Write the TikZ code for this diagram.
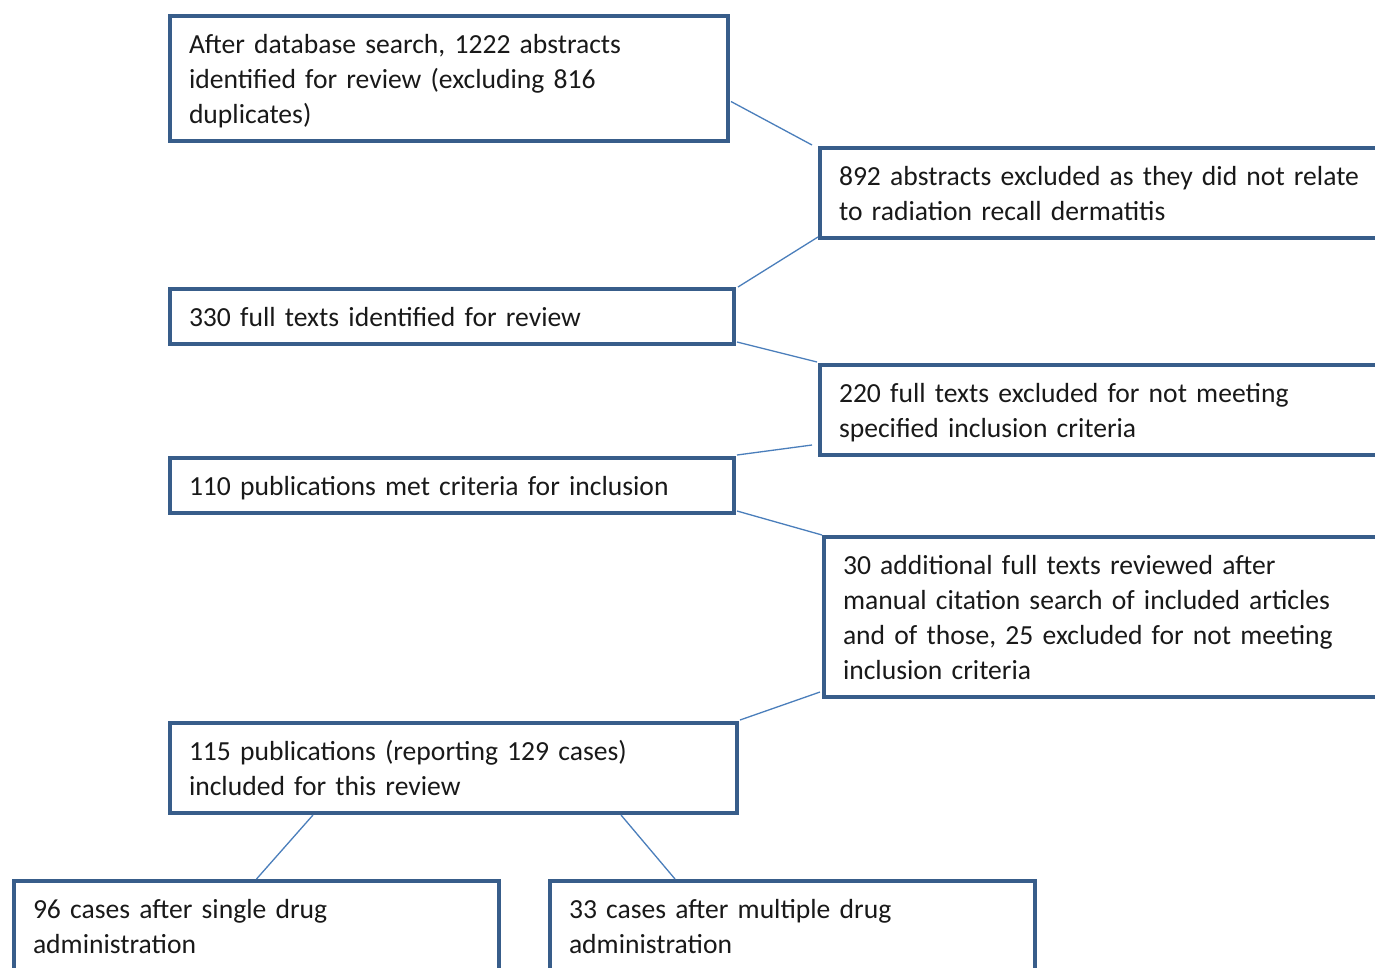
\documentclass[tikz,border=0pt]{standalone}
\usepackage{fontspec}
\setmainfont{Carlito}
\usepackage{tikz}

\definecolor{boxblue}{HTML}{385D8A}
\definecolor{linkblue}{HTML}{4A7EBB}

\begin{document}
\begin{tikzpicture}[
    x=1pt, y=-1pt,
    stage/.style={rectangle, draw=boxblue, line width=4pt, fill=white, anchor=north west,
        align=left, inner xsep=19pt, inner ysep=10pt, text=black!90,
        font=\fontsize{27.6}{35}\selectfont,
        execute at begin node=\rule{0pt}{27.5pt},
        execute at end node=\rule[-7.5pt]{0pt}{7.5pt}},
    link/.style={draw=linkblue, line width=1.3pt}
]

% --- Page frame (boxes on the right and at the bottom run off it) ---
\useasboundingbox (0,0) rectangle (1375,967);
\clip (0,0) rectangle (1375,967);
\fill[white] (0,0) rectangle (1375,967);

% --- Main column ---
\node[stage, text width=520pt] (search) at (168,14)
    {After database search, 1222 abstracts\\identified for review (excluding 816\\duplicates)};
\node[stage, text width=526pt] (full) at (168,287) {330 full texts identified for review};
\node[stage, text width=526pt] (met) at (168,456) {110 publications met criteria for inclusion};
\node[stage, text width=529pt] (incl) at (168,721)
    {115 publications (reporting 129 cases)\\included for this review};

% --- Exclusions on the right ---
\node[stage, text width=542pt] (excl1) at (818,146)
    {892 abstracts excluded as they did not relate\\to radiation recall dermatitis};
\node[stage, text width=542pt] (excl2) at (818,363)
    {220 full texts excluded for not meeting\\specified inclusion criteria};
\node[stage, text width=538pt] (manual) at (822,535)
    {30 additional full texts reviewed after\\manual citation search of included articles\\and of those, 25 excluded for not meeting\\inclusion criteria};

% --- Split by drug regimen ---
\node[stage, text width=447pt] (single) at (12,879) {96 cases after single drug\\administration};
\node[stage, text width=447pt] (multi) at (548,879) {33 cases after multiple drug\\administration};

% --- Connectors ---
\draw[link] ([xshift=1pt,yshift=-23pt]search.east) -- ([xshift=-6pt,yshift=1pt]excl1.north west);
\draw[link] ([yshift=3pt]excl1.south west) -- ([xshift=2pt]full.north east);
\draw[link] ([xshift=1pt,yshift=4pt]full.south east) -- ([xshift=-1pt,yshift=1pt]excl2.north west);
\draw[link] ([xshift=-6pt,yshift=12pt]excl2.south west) -- ([xshift=1pt,yshift=1pt]met.north east);
\draw[link] ([xshift=1pt,yshift=4pt]met.south east) -- (manual.north west);
\draw[link] ([xshift=-2pt,yshift=7pt]manual.south west) -- ([xshift=1pt,yshift=1pt]incl.north east);
\draw[link] ([xshift=145pt]incl.south west) -- (single.north);
\draw[link] ([xshift=453pt]incl.south west) -- ([xshift=127pt]multi.north west);

\end{tikzpicture}
\end{document}
